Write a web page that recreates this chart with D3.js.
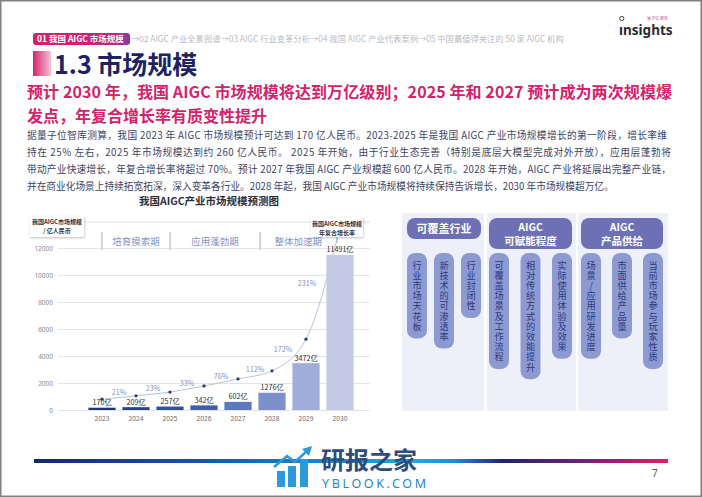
<!DOCTYPE html>
<html>
<head>
<meta charset="utf-8">
<script src="https://cdn.jsdelivr.net/npm/d3@7"></script>
<style>
  body { margin: 0; background: #fff; }
  svg { display: block; font-family: "Noto Sans CJK SC", "Noto Sans", sans-serif; }
  .vtext { writing-mode: vertical-rl; text-orientation: upright; }
</style>
</head>
<body>
<svg id="slide" width="702" height="497"></svg>
<script>
// ---- data ----
const years = ["2023", "2024", "2025", "2026", "2027", "2028", "2029", "2030"];
const marketSize = [170, 209, 257, 342, 602, 1276, 3472, 11491];     // 亿人民币
const growthRate = ["21%", "23%", "33%", "76%", "112%", "172%", "231%"];
const trendLine = [800, 1050, 1330, 1780, 2300, 2900, 5250, 13600];  // growth curve, drawn in axis units
const yTicks = [0, 2000, 4000, 6000, 8000, 10000, 12000];
const phases = ["培育摸索期", "应用蓬勃期", "整体加速期"];
const phaseBounds = [0, 2, 4.65, 6.9];   // in year-index units

const navActive = "01 我国 AIGC 市场规模";
const navRest = "→02 AIGC 产业全景图谱→03 AIGC 行业变革分析→04 我国 AIGC 产业代表案例→05 中国最值得关注的 50 家 AIGC 机构";
const headline = [
  "预计 2030 年，我国 AIGC 市场规模将达到万亿级别；2025 年和 2027 预计成为两次规模爆",
  "发点，年复合增长率有质变性提升"
];
const bodyLines = [
  "据量子位智库测算，我国 2023 年 AIGC 市场规模预计可达到 170 亿人民币。2023-2025 年是我国 AIGC 产业市场规模增长的第一阶段，增长率维",
  "持在 25% 左右，2025 年市场规模达到约 260 亿人民币。 2025 年开始，由于行业生态完善（特别是底层大模型完成对外开放），应用层蓬勃将",
  "带动产业快速增长，年复合增长率将超过 70%。预计 2027 年我国 AIGC 产业规模超 600 亿人民币。2028 年开始，AIGC 产业将延展出完整产业链，",
  "并在商业化场景上持续拓宽拓深，深入变革各行业。2028 年起，我国 AIGC 产业市场规模将持续保持告诉增长，2030 年市场规模超万亿。"
];
const dimensions = [["可覆盖行业"], ["AIGC", "可赋能程度"], ["AIGC", "产品供给"]];
const factors = [
  ["行业市场天花板", "新技术的可渗透率", "行业封闭性"],
  ["可覆盖场景及工作流程", "相对传统方式的效能提升", "实际使用体验及效果"],
  ["场景/应用研发进度", "市面供给产品量", "当前市场参与玩家性质"]
];

const svg = d3.select("#slide");
const defs = svg.append("defs");

const shadow = defs.append("filter").attr("id", "shadow")
  .attr("x", "-20%").attr("y", "-30%").attr("width", "140%").attr("height", "170%");
shadow.append("feDropShadow").attr("dx", 0.5).attr("dy", 1).attr("stdDeviation", 1)
  .attr("flood-color", "#000").attr("flood-opacity", 0.25);

const pillGrad = defs.append("linearGradient").attr("id", "pillGrad");
pillGrad.append("stop").attr("offset", "0").attr("stop-color", "#d91f6b");
pillGrad.append("stop").attr("offset", "0.85").attr("stop-color", "#c8227a");
pillGrad.append("stop").attr("offset", "1").attr("stop-color", "#7d3fa8");

const blockGrad = defs.append("linearGradient").attr("id", "blockGrad");
blockGrad.append("stop").attr("offset", "0").attr("stop-color", "#d6246e");
blockGrad.append("stop").attr("offset", "1").attr("stop-color", "#f3c3d8");

const footGrad = defs.append("linearGradient").attr("id", "footGrad");
[["0", "#17266a"], ["0.3", "#1b5da6"], ["0.6", "#29a5dc"], ["0.66", "#2c8ccd"],
 ["0.74", "#24226a"], ["0.86", "#6c2275"], ["1", "#d4236a"]].forEach(s =>
  footGrad.append("stop").attr("offset", s[0]).attr("stop-color", s[1]));

// ---- header ----
svg.append("rect").attr("x", 33).attr("y", 33).attr("width", 97).attr("height", 12)
  .attr("rx", 3).attr("fill", "url(#pillGrad)");
svg.append("text").attr("x", 37).attr("y", 42).attr("font-size", 8.5).attr("font-weight", "bold")
  .attr("fill", "#fff").text(navActive);
svg.append("text").attr("x", 131).attr("y", 42).attr("font-size", 8.3)
  .attr("fill", "#b9bac4").text(navRest);

// insights logo
svg.append("text").attr("x", 619).attr("y", 35).attr("font-size", 13.5).attr("font-weight", "bold")
  .attr("font-family", "Noto Sans, sans-serif").attr("fill", "#2b2b38").text("ınsights");
svg.append("circle").attr("cx", 621.8).attr("cy", 18.5).attr("r", 2.1)
  .attr("fill", "none").attr("stroke", "#2b2b38").attr("stroke-width", 0.9);
svg.append("text").attr("x", 668).attr("y", 20).attr("text-anchor", "end").attr("font-size", 4)
  .attr("fill", "#c84a8a").text("量子位 智库");

// title
svg.append("rect").attr("x", 33).attr("y", 51).attr("width", 18).attr("height", 25)
  .attr("fill", "url(#blockGrad)");
svg.append("text").attr("x", 54).attr("y", 74).attr("font-size", 25).attr("font-weight", "bold")
  .attr("fill", "#1f2262").text("1.3 市场规模");

// headline
headline.forEach((t, i) => {
  const el = svg.append("text").attr("x", 27).attr("y", 97.5 + i * 24.5)
    .attr("font-size", 16).attr("font-weight", "bold").attr("fill", "#d4236c").text(t);
  if (i === 0) el.attr("textLength", 645).attr("lengthAdjust", "spacing");
});

// body text
bodyLines.forEach((t, i) => {
  const el = svg.append("text").attr("x", 27).attr("y", 138.5 + i * 17)
    .attr("font-size", 9.7).attr("fill", "#3d4468").text(t);
  if (i < 3) el.attr("textLength", i === 0 ? 640 : 644).attr("lengthAdjust", "spacing");
});

// ---- chart ----
svg.append("text").attr("x", 209).attr("y", 205).attr("text-anchor", "middle")
  .attr("font-size", 10.5).attr("font-weight", "bold").attr("fill", "#2e2e3a")
  .text("我国AIGC产业市场规模预测图");

const x = d3.scaleBand().domain(years).range([85, 357]).paddingInner(0.2).paddingOuter(0.1);
const y = d3.scaleLinear().domain([0, 12000]).range([410, 248]);
const xi = d3.scaleLinear().domain([0, 1]).range([x(years[0]) + x.bandwidth() / 2, x(years[1]) + x.bandwidth() / 2]);
const barColor = d3.scaleLinear().domain([0, 3, 5, 7])
  .range(["#1e3476", "#3d5fae", "#7d90cc", "#c2cae6"]);

const yAxis = svg.append("g").attr("transform", "translate(58,0)")
  .call(d3.axisLeft(y).tickValues(yTicks).tickFormat(d3.format("d")).tickSize(-312).tickPadding(5));
yAxis.select(".domain").remove();
yAxis.selectAll(".tick line").attr("stroke", "#e3e3e8");
yAxis.selectAll(".tick text").attr("font-size", 6.5).attr("fill", "#8a8a95")
  .attr("font-family", "Noto Sans, sans-serif");

const xAxis = svg.append("g").attr("transform", "translate(0,410)")
  .call(d3.axisBottom(x).tickSize(0).tickPadding(6));
xAxis.select(".domain").remove();
xAxis.selectAll(".tick text").attr("font-size", 6.5).attr("fill", "#6a6a75")
  .attr("font-family", "Noto Sans, sans-serif");

// phase band
svg.append("line").attr("x1", 58).attr("x2", 370).attr("y1", 222).attr("y2", 222)
  .attr("stroke", "#e3e3e8");
svg.selectAll(".divider").data(phaseBounds.slice(0, 3)).enter().append("line")
  .attr("x1", d => xi(d)).attr("x2", d => xi(d)).attr("y1", 232).attr("y2", 250)
  .attr("stroke", "#c4c4cc").attr("stroke-width", 1.5);
svg.selectAll(".phase").data(phases).enter().append("text")
  .attr("x", (d, i) => (xi(phaseBounds[i]) + xi(phaseBounds[i + 1])) / 2)
  .attr("y", 245).attr("text-anchor", "middle").attr("font-size", 9.5)
  .attr("fill", "#8595c6").text(d => d);

// growth curve (behind bars)
const pts = trendLine.map((v, i) => [x(years[i]) + x.bandwidth() / 2, y(v)]);
svg.append("path").attr("d", d3.line().curve(d3.curveMonotoneX)(pts))
  .attr("fill", "none").attr("stroke", "#bcc3da").attr("stroke-width", 1);

svg.selectAll(".bar").data(marketSize).enter().append("rect")
  .attr("x", (d, i) => x(years[i])).attr("width", x.bandwidth())
  .attr("y", d => y(d)).attr("height", d => y(0) - y(d))
  .attr("fill", (d, i) => barColor(i));

svg.selectAll(".dot").data(pts.slice(0, 7)).enter().append("circle")
  .attr("cx", d => d[0]).attr("cy", d => d[1]).attr("r", 1.6).attr("fill", "#2b3a78");

const labelShift = [0, 0, 0, 0, 0, -6, -16];
svg.selectAll(".rate").data(growthRate).enter().append("text")
  .attr("x", (d, i) => (pts[i][0] + pts[i + 1][0]) / 2 + labelShift[i])
  .attr("y", (d, i) => Math.max((pts[i][1] + pts[i + 1][1]) / 2, 289) - 3)
  .attr("text-anchor", "middle").attr("font-size", 7.2).attr("fill", "#8393c9")
  .text(d => d);

svg.selectAll(".val").data(marketSize).enter().append("text")
  .attr("x", (d, i) => x(years[i]) + x.bandwidth() / 2)
  .attr("y", d => Math.min(y(d) - 2.5, 405))
  .attr("text-anchor", "middle").attr("font-size", 7.2).attr("fill", "#2e2e3a")
  .text(d => d + "亿");

// legend boxes
function legendBox(x0, y0, w, h, lines) {
  svg.append("rect").attr("x", x0).attr("y", y0).attr("width", w).attr("height", h)
    .attr("fill", "#fff").attr("filter", "url(#shadow)");
  lines.forEach((t, i) => svg.append("text").attr("x", x0 + w / 2).attr("y", y0 + 8 + i * 8.8)
    .attr("text-anchor", "middle").attr("font-size", 6).attr("font-weight", "bold")
    .attr("fill", "#33333f").text(t));
}
legendBox(30, 216, 54, 21, ["我国AIGC市场规模", "/ 亿人民币"]);
legendBox(311, 218, 52, 19, ["我国AIGC市场规模", "年复合增长率"]);
svg.append("line").attr("x1", 337).attr("x2", 337).attr("y1", 237).attr("y2", 243)
  .attr("stroke", "#9aa0b8").attr("stroke-width", 0.8);

// ---- right panel ----
const cols = [[402, 484], [487, 576], [578, 668]];
const heads = [[407, 481], [489, 572], [581, 663]];
const pillW = 20, pillTop = 253, charStep = 10.2, pillPad = 7, vFont = 9.2;

cols.forEach((c, ci) => {
  svg.append("rect").attr("x", c[0]).attr("y", 213).attr("width", c[1] - c[0]).attr("height", 198)
    .attr("fill", "#eef0f9");
  const h = heads[ci];
  const lines = dimensions[ci];
  const hh = lines.length === 1 ? 21 : 31;
  svg.append("rect").attr("x", h[0]).attr("y", 218).attr("width", h[1] - h[0]).attr("height", hh)
    .attr("rx", 8).attr("fill", "#6e70b5");
  lines.forEach((t, li) => svg.append("text").attr("x", (h[0] + h[1]) / 2)
    .attr("y", lines.length === 1 ? 232.5 : 230.5 + li * 14.5)
    .attr("text-anchor", "middle").attr("font-size", lines.length === 1 ? 11 : 10.5)
    .attr("font-weight", "bold").attr("fill", "#fff").text(t));

  const px = d3.scalePoint().domain(d3.range(3)).range([h[0] + pillW / 2, h[1] - pillW / 2]);
  factors[ci].forEach((f, fi) => {
    const chars = Array.from(f);
    const cx = px(fi);
    svg.append("rect").attr("x", cx - pillW / 2).attr("y", pillTop).attr("width", pillW)
      .attr("height", pillPad * 2 + chars.length * charStep).attr("rx", 8).attr("fill", "#8d99d1");
    chars.forEach((ch, k) => svg.append("text").attr("class", "vtext").attr("x", cx)
      .attr("y", pillTop + pillPad + k * charStep + (charStep - vFont) / 2)
      .attr("font-size", vFont).attr("fill", "#2a3a7e").text(ch));
  });
});

// ---- footer ----
svg.append("rect").attr("x", 34).attr("y", 459).attr("width", 634).attr("height", 4)
  .attr("fill", "url(#footGrad)");
svg.append("text").attr("x", 652).attr("y", 477).attr("font-size", 10).attr("fill", "#555")
  .attr("font-family", "Noto Sans, sans-serif").text("7");

// watermark
const wm = svg.append("g").attr("fill", "#2a9ad8");
[[277, 471], [288, 466], [300, 459]].forEach(b =>
  wm.append("rect").attr("x", b[0]).attr("y", b[1]).attr("width", 8).attr("height", 487 - b[1]));
wm.append("path").attr("d", "M274,467 L287,456 L295,462 L307,451")
  .attr("fill", "none").attr("stroke", "#2a9ad8").attr("stroke-width", 2.5);
wm.append("path").attr("d", "M302,449 L312,446 L309,456 Z");
svg.append("text").attr("x", 321).attr("y", 469).attr("font-size", 24).attr("font-weight", "bold")
  .attr("fill", "#2c4d7e").text("研报之家");
svg.append("text").attr("x", 322).attr("y", 488).attr("font-size", 12.5)
  .attr("font-family", "Noto Sans, sans-serif").attr("fill", "#1f88c9")
  .attr("textLength", 104).attr("lengthAdjust", "spacing").text("YBLOOK.COM");

// slide frame
svg.append("rect").attr("x", 0.75).attr("y", 0.75).attr("width", 700.5).attr("height", 495.5)
  .attr("fill", "none").attr("stroke", "#808080").attr("stroke-width", 1.5);
</script>
</body>
</html>
